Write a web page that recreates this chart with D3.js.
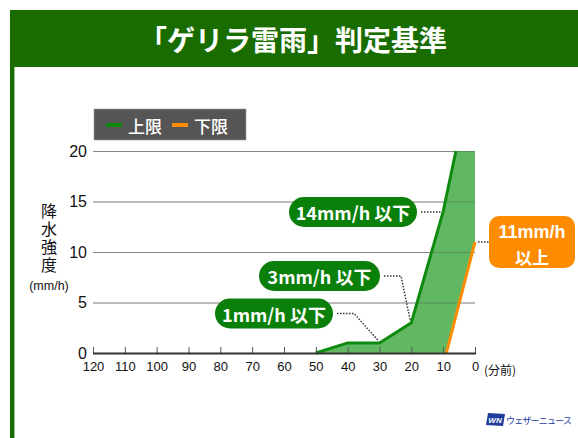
<!DOCTYPE html>
<html>
<head>
<meta charset="utf-8">
<script src="https://cdn.jsdelivr.net/npm/d3@7"></script>
<style>
  body { margin: 0; background: #fff; }
  svg { display: block; font-family: "Noto Sans CJK JP", "Noto Sans", sans-serif; }
</style>
</head>
<body>
<svg id="chart" width="578" height="438"></svg>
<script>
// data
var title = "「ゲリラ雷雨」判定基準";
var xTicks = [120, 110, 100, 90, 80, 70, 60, 50, 40, 30, 20, 10, 0];
var yTicks = [0, 5, 10, 15, 20];
var upperMin = [50, 40, 30, 20, 10, 6];
var upperVal = [0, 1, 1, 3, 14, 20];
var lowerMin = [9, 0];
var lowerVal = [0, 11];
var legendKeys = ["上限", "下限"];
var notes = [
    { text: "14mm/h 以下", min: 10, val: 14 },
    { text: "3mm/h 以下", min: 20, val: 3 },
    { text: "1mm/h 以下", min: 30, val: 1 }
];
var lowerNote = ["11mm/h", "以上"];

var green = "#0e8a0e", orange = "#ff8c00", dark = "#186c00";

var svg = d3.select("#chart");

var x = d3.scaleLinear().domain([120, 0]).range([93, 475]);
var y = d3.scaleLinear().domain([0, 20]).range([353, 151]);

var upper = upperMin.map(function (m, i) { return [m, upperVal[i]]; });
var lower = lowerMin.map(function (m, i) { return [m, lowerVal[i]]; });

// frame + header
svg.append("rect").attr("x", 10).attr("y", 10).attr("width", 568).attr("height", 57).attr("fill", dark);
svg.append("rect").attr("x", 10).attr("y", 67).attr("width", 4).attr("height", 371).attr("fill", dark);
svg.append("rect").attr("x", 14).attr("y", 67).attr("width", 1).attr("height", 371).attr("fill", "#8fc98f");
svg.append("text").text(title)
    .attr("x", 293).attr("y", 39)
    .attr("text-anchor", "middle").attr("dominant-baseline", "central")
    .attr("fill", "#fff").attr("font-size", 28).attr("font-weight", "bold");

// gridlines
var gridVals = yTicks.filter(function (d) { return d > 0; });
svg.append("g").selectAll("line").data(gridVals)
    .enter().append("line")
    .attr("x1", x(120)).attr("x2", x(0))
    .attr("y1", function (d) { return y(d) + 0.5; }).attr("y2", function (d) { return y(d) + 0.5; })
    .attr("stroke", "#aaa").attr("stroke-width", 1);

// filled band between the two limits
var line = d3.line().x(function (d) { return x(d[0]); }).y(function (d) { return y(d[1]); });
var band = upper.concat([[0, 20]], lower.slice().reverse());
svg.append("path")
    .attr("d", line(band) + "Z")
    .attr("fill", "#62b862");

// gridlines again on top of the fill, faint
svg.append("g").selectAll("line").data(gridVals)
    .enter().append("line")
    .attr("x1", x(120)).attr("x2", x(0))
    .attr("y1", function (d) { return y(d) + 0.5; }).attr("y2", function (d) { return y(d) + 0.5; })
    .attr("stroke", "#444").attr("stroke-opacity", 0.35).attr("stroke-width", 1);

svg.append("path").attr("d", line(upper)).attr("fill", "none")
    .attr("stroke", green).attr("stroke-width", 3).attr("stroke-linejoin", "miter");
svg.append("path").attr("d", line(lower)).attr("fill", "none")
    .attr("stroke", orange).attr("stroke-width", 3);

// x axis
var xAxis = d3.axisBottom(x).tickValues(xTicks).tickSize(-6).tickPadding(10);
var gx = svg.append("g").attr("transform", "translate(0," + y(0) + ")").call(xAxis);
gx.select(".domain").remove();
gx.selectAll(".tick line").attr("stroke", "#555");
gx.selectAll(".tick text").attr("font-size", 13).attr("fill", "#111")
    .attr("font-family", "'Liberation Sans', Arial, sans-serif").attr("dy", "0.6em");
svg.append("line").attr("x1", x(120)).attr("x2", x(0) + 1)
    .attr("y1", y(0) + 0.5).attr("y2", y(0) + 0.5).attr("stroke", "#333").attr("stroke-width", 2);
svg.append("text").text("(分前)").attr("x", 484).attr("y", y(0) + 16)
    .attr("dominant-baseline", "central").attr("font-size", 12).attr("fill", "#111");

// y labels
svg.append("g").selectAll("text").data(yTicks).enter().append("text")
    .text(function (d) { return d; })
    .attr("x", 87).attr("y", function (d) { return y(d); })
    .attr("text-anchor", "end").attr("dominant-baseline", "central")
    .attr("font-family", "'Liberation Sans', Arial, sans-serif")
    .attr("font-size", 16).attr("fill", "#111");

// vertical axis title
svg.append("text").text("降水強度")
    .attr("x", 49).attr("y", 203)
    .style("writing-mode", "vertical-rl")
    .attr("letter-spacing", 2)
    .attr("font-size", 16).attr("fill", "#111");
svg.append("text").text("(mm/h)").attr("x", 49).attr("y", 286)
    .attr("text-anchor", "middle").attr("dominant-baseline", "central").attr("font-size", 12.5)
    .attr("font-family", "'Liberation Sans', Arial, sans-serif").attr("fill", "#111");

// legend
var lg = svg.append("g").attr("transform", "translate(94,109)");
lg.append("rect").attr("width", 152).attr("height", 31).attr("fill", "#555").attr("stroke", "#999").attr("stroke-width", 0.6);
legendKeys.forEach(function (k, i) {
    var g = lg.append("g").attr("transform", "translate(" + (12 + i * 66) + ",0)");
    g.append("line").attr("x1", 0).attr("x2", 16).attr("y1", 16).attr("y2", 16)
        .attr("stroke", i === 0 ? green : orange).attr("stroke-width", 4);
    g.append("text").text(k).attr("x", 22).attr("y", 16).attr("dominant-baseline", "central")
        .attr("fill", "#fff").attr("font-size", 17).attr("font-weight", 500);
});

// callouts for the upper limit
var pills = [
    { x0: 289, x1: 417, cy: 212, lx: 441, bend: null },
    { x0: 259, x1: 380, cy: 276, lx: 401, bend: true },
    { x0: 215, x1: 333, cy: 313.5, lx: 354, bend: true }
];
notes.forEach(function (n, i) {
    var p = pills[i];
    svg.append("rect").attr("x", p.x0).attr("y", p.cy - 15).attr("width", p.x1 - p.x0).attr("height", 30)
        .attr("rx", 15).attr("fill", "#0a7f0a");
    svg.append("text").text(n.text).attr("x", (p.x0 + p.x1) / 2).attr("y", p.cy)
        .attr("text-anchor", "middle").attr("dominant-baseline", "central")
        .attr("fill", "#fff").attr("font-size", 18).attr("font-weight", "bold");
    var pts = [[p.x1 + 4, p.cy], [p.lx, p.cy]];
    if (p.bend) pts.push([x(n.min) - 1, y(n.val) - 2]);
    svg.append("path").attr("d", d3.line()(pts)).attr("fill", "none")
        .attr("stroke", "#333").attr("stroke-width", 1.5).attr("stroke-dasharray", "1.5,1.5");
});

// callout for the lower limit
svg.append("path").attr("d", d3.line()([[x(0) + 3, y(11)], [489, y(11)]]))
    .attr("stroke", "#333").attr("stroke-width", 1.5).attr("stroke-dasharray", "1.5,1.5");
svg.append("rect").attr("x", 489).attr("y", 216).attr("width", 86).attr("height", 52)
    .attr("rx", 10).attr("fill", orange);
svg.append("text").text(lowerNote[0]).attr("x", 532).attr("y", 232)
    .attr("text-anchor", "middle").attr("dominant-baseline", "central")
    .attr("font-family", "'Liberation Sans', Arial, sans-serif")
    .attr("fill", "#fff").attr("font-size", 18).attr("font-weight", "bold");
svg.append("text").text(lowerNote[1]).attr("x", 532).attr("y", 256)
    .attr("text-anchor", "middle").attr("dominant-baseline", "central")
    .attr("fill", "#fff").attr("font-size", 17).attr("font-weight", "bold");

// logo
var logo = svg.append("g").attr("transform", "translate(486,413)");
logo.append("path").attr("d", "M2,0 L19,1 L17,13 L0,12 Z").attr("fill", "#1d3c9c");
logo.append("text").text("WN").attr("x", 9).attr("y", 7.5).attr("text-anchor", "middle")
    .attr("dominant-baseline", "central").attr("font-size", 8).attr("font-weight", "bold")
    .attr("font-style", "italic").attr("fill", "#fff").attr("font-family", "'Liberation Sans', Arial, sans-serif");
svg.append("text").text("ウェザーニュース").attr("x", 506).attr("y", 420)
    .attr("dominant-baseline", "central").attr("font-size", 9).attr("fill", "#1d3c9c")
    .attr("textLength", 66);
</script>
</body>
</html>
